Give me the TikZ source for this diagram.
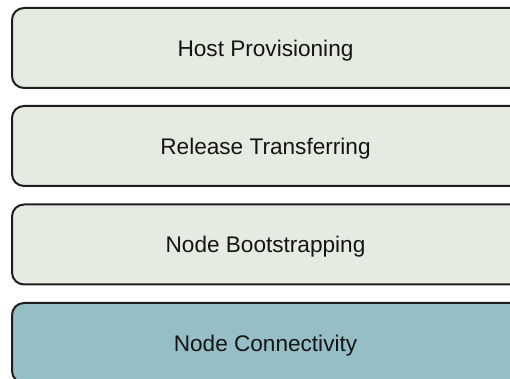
\documentclass[tikz,border=0pt]{standalone}
\usepackage{fontspec}
\setmainfont{Liberation Sans}
\definecolor{boxfill}{RGB}{230,235,226}
\definecolor{bluefill}{RGB}{150,190,198}
\definecolor{boxline}{RGB}{30,30,30}
\begin{document}
\begin{tikzpicture}[x=1pt,y=1pt,
  layerbox/.style={draw=boxline, line width=2pt, rounded corners=12pt, fill=boxfill,
    minimum width=530pt, minimum height=80pt, inner sep=0pt},
  bluebox/.style={layerbox, fill=bluefill},
  layertext/.style={inner sep=0pt, text height=16.2pt, text depth=0pt,
    font=\fontsize{22.6}{26}\selectfont, text=black!92}]
\useasboundingbox (0,0) rectangle (510,379);
\clip (0,0) rectangle (510,379);
\node[layerbox] (host) at (277,331) {};
\node[layerbox] (release) at (277,233) {};
\node[layerbox] (boot) at (277,134.5) {};
\node[bluebox] (conn) at (277,36) {};
\node[layertext] (hostlabel) at (265.5,331) {Host Provisioning};
\node[layertext] (releaselabel) at (265.5,233) {Release Transferring};
\node[layertext] (bootlabel) at (265.5,134.5) {Node Bootstrapping};
\node[layertext] (connlabel) at (265.5,36) {Node Connectivity};
\end{tikzpicture}
\end{document}
